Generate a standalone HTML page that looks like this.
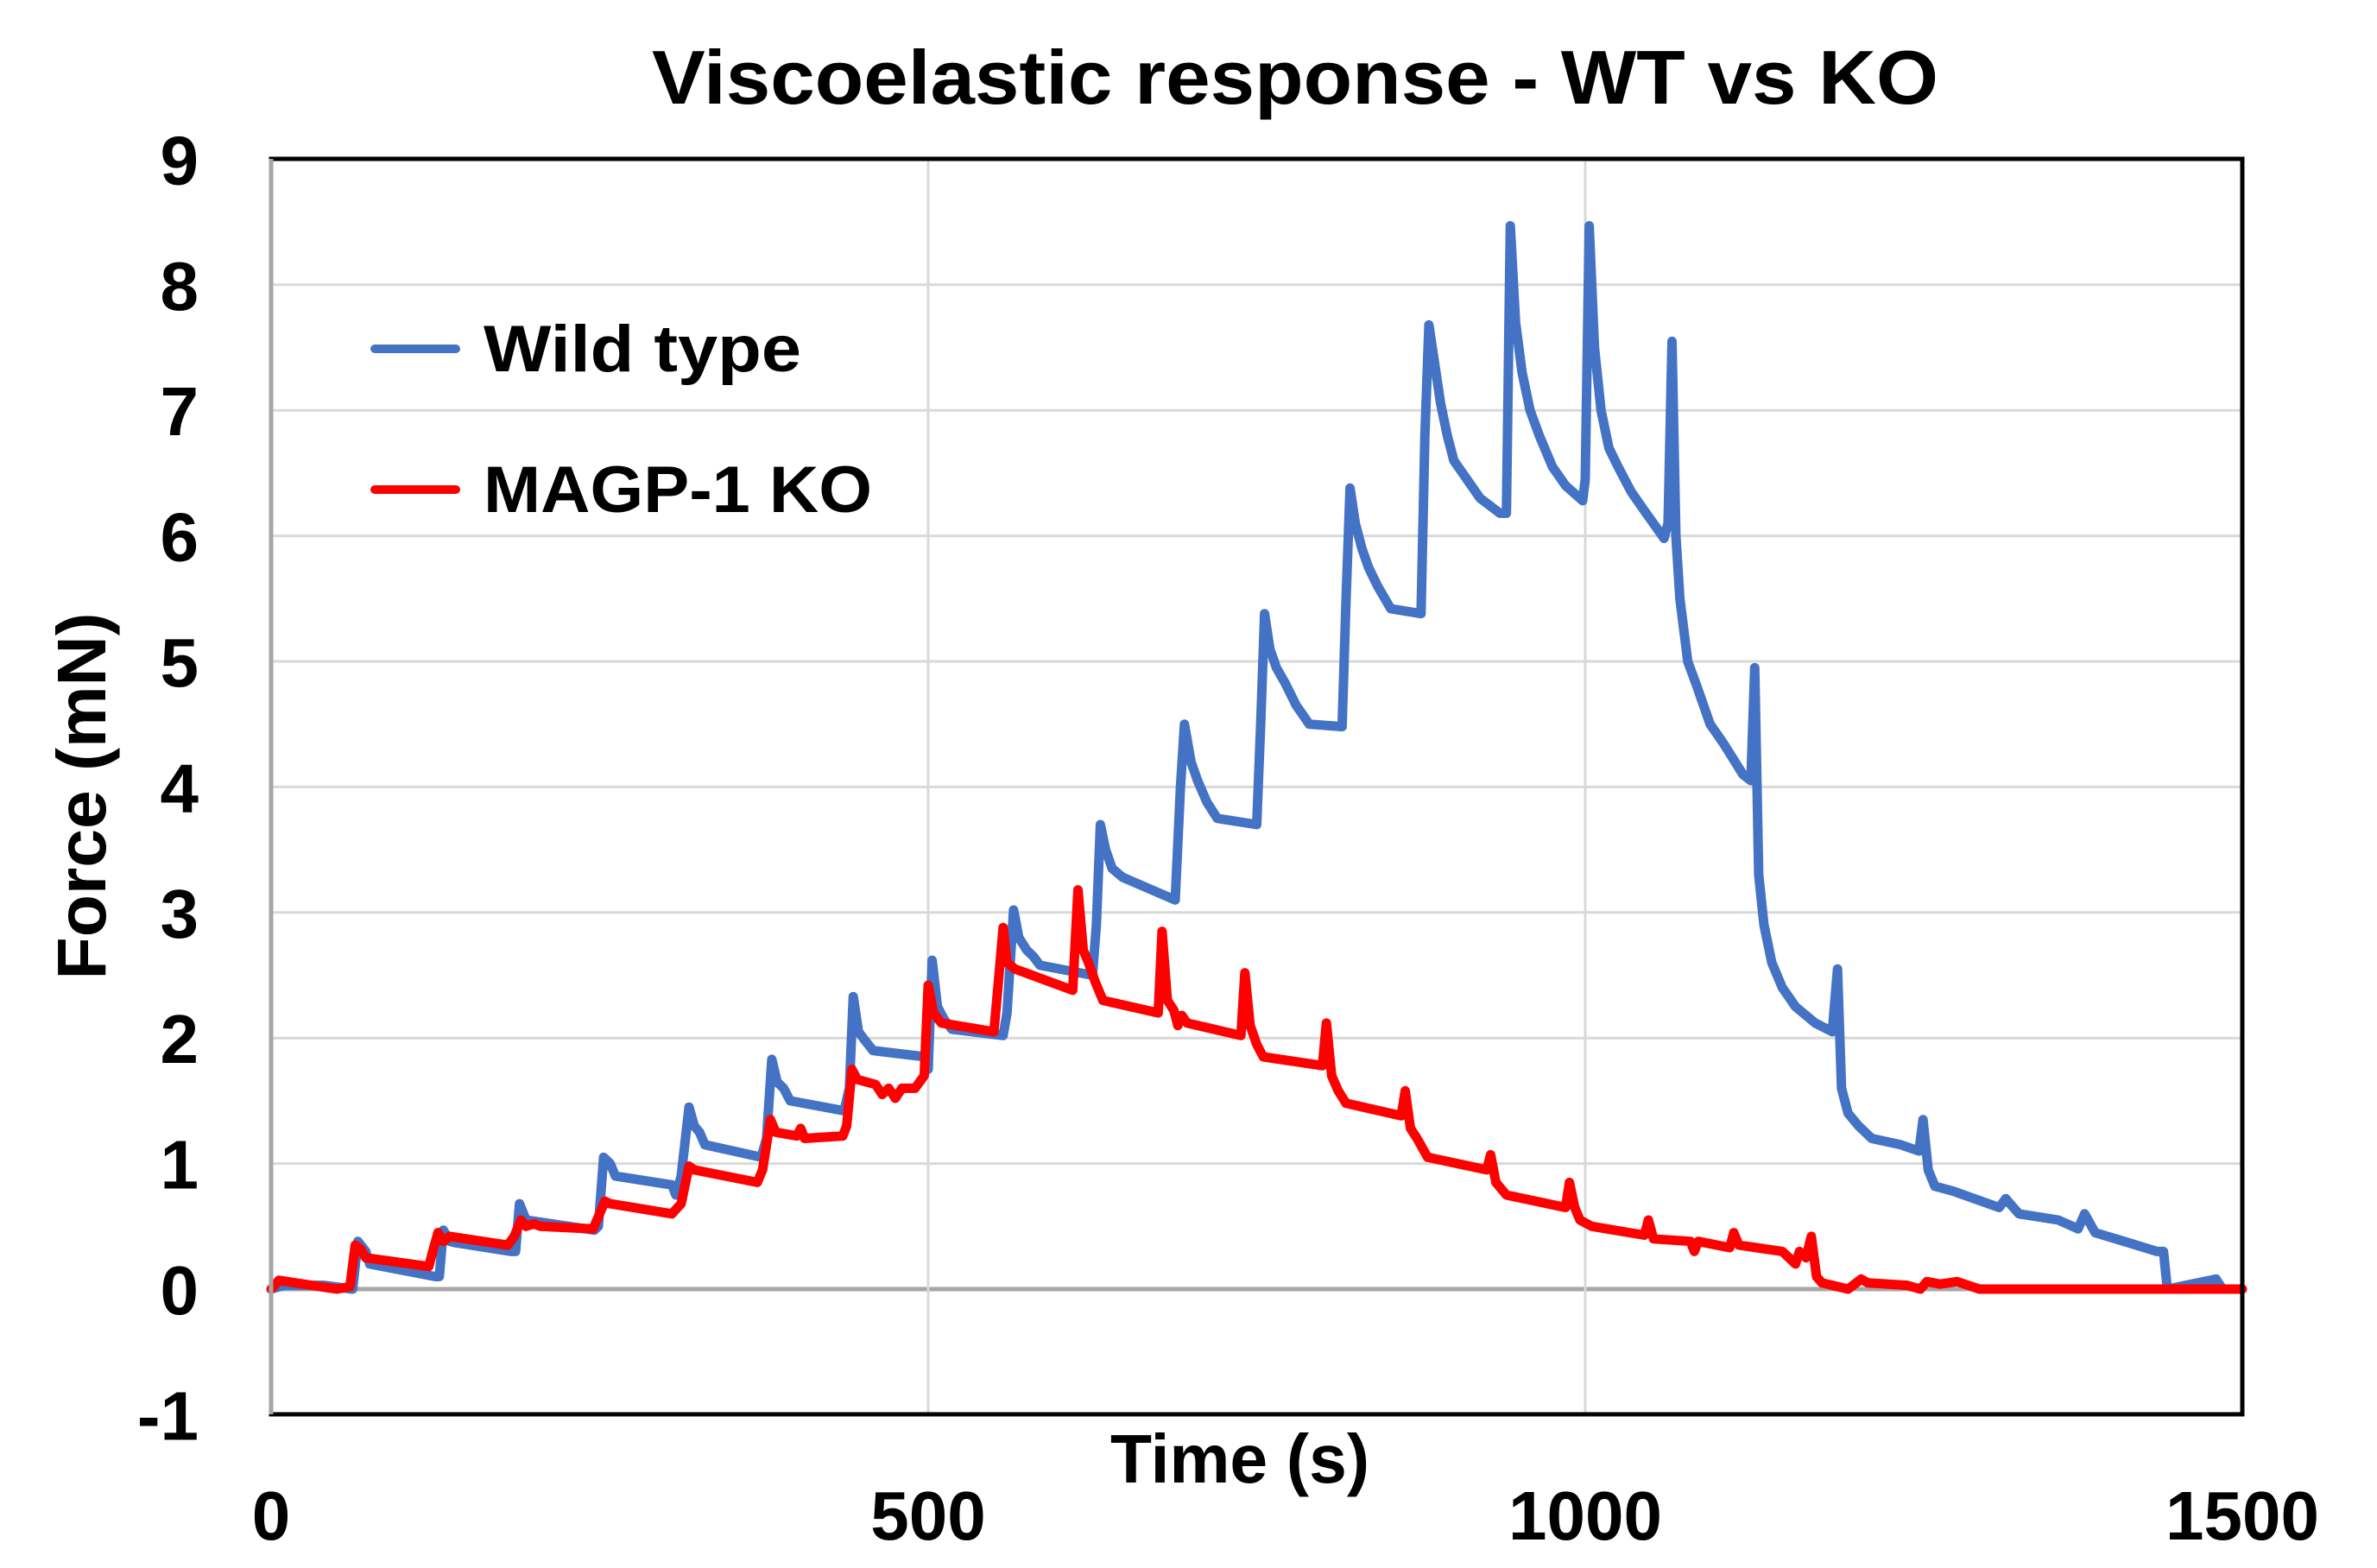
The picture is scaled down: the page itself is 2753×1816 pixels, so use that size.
<!DOCTYPE html>
<html><head><meta charset="utf-8"><style>
html,body{margin:0;padding:0;background:#fff;}
svg{display:block;font-family:"Liberation Sans",sans-serif;font-weight:bold;}
</style></head><body>
<svg id="chart" width="2753" height="1816" viewBox="0 0 2753 1816" xmlns="http://www.w3.org/2000/svg">
<rect width="2753" height="1816" fill="#fff"/>
<text x="1500" y="120" font-size="88" text-anchor="middle" textLength="1490" lengthAdjust="spacingAndGlyphs">Viscoelastic response - WT vs KO</text>
<g id="grid"></g>
<g id="series"></g>
<rect x="314" y="184" width="2283" height="1454" fill="none" stroke="#000" stroke-width="5"/>
<line x1="314" y1="184" x2="314" y2="1638" stroke="#a6a6a6" stroke-width="5"/>
<g id="ticks"></g>
<text x="1436" y="1717" font-size="80" text-anchor="middle" textLength="300" lengthAdjust="spacingAndGlyphs">Time (s)</text>
<text transform="translate(122,922) rotate(-90)" font-size="80" text-anchor="middle" textLength="425" lengthAdjust="spacingAndGlyphs">Force (mN)</text>
<g>
<g>
<line x1="434" y1="404" x2="528" y2="404" stroke="#4472c4" stroke-width="10" stroke-linecap="round"/>
<text x="560" y="430" font-size="76" textLength="368" lengthAdjust="spacingAndGlyphs">Wild type</text>
</g>
<g>
<line x1="434" y1="567" x2="528" y2="567" stroke="#ff0000" stroke-width="10" stroke-linecap="round"/>
<text x="560" y="593" font-size="76" textLength="450" lengthAdjust="spacingAndGlyphs">MAGP-1 KO</text>
</g>
</g>
</svg>
<script>
const yTicks = [-1,0,1,2,3,4,5,6,7,8,9];
const xTicks = [0,500,1000,1500];
const wtTime = [0,10,40,62,66,72,75,125,128,131,136,140,183,186,189,194,246,249,253,258,262,305,308,312,318,322,326,330,373,377,381,385,390,395,436,440,443,447,452,458,498,500,503,507,512,518,557,560,565,569,575,580,585,625,628,631,635,640,648,688,692,695,700,705,712,720,750,753,756,760,765,772,780,790,815,818,821,825,830,835,842,852,875,878,881,885,890,895,900,910,920,935,940,943,947,952,958,965,975,985,998,1000,1003,1007,1012,1018,1025,1035,1045,1060,1063,1066,1069,1072,1078,1085,1095,1105,1120,1126,1129,1132,1136,1142,1150,1160,1175,1188,1192,1195,1200,1208,1218,1240,1254,1257,1261,1266,1280,1315,1320,1330,1360,1375,1380,1388,1410,1435,1440,1443,1480,1485];
const wtForce = [0,0.03,0.03,0,0.38,0.3,0.2,0.1,0.1,0.47,0.38,0.37,0.3,0.3,0.68,0.55,0.47,0.5,1.05,1.0,0.9,0.83,0.75,0.9,1.45,1.3,1.25,1.15,1.05,1.2,1.83,1.65,1.6,1.5,1.42,1.6,2.33,2.05,1.98,1.9,1.85,1.75,2.62,2.25,2.15,2.07,2.02,2.2,3.02,2.8,2.7,2.65,2.58,2.5,2.9,3.7,3.5,3.35,3.28,3.1,4.0,4.5,4.2,4.05,3.88,3.75,3.7,4.5,5.38,5.1,4.95,4.82,4.65,4.5,4.48,5.5,6.38,6.1,5.9,5.75,5.6,5.42,5.38,6.8,7.68,7.4,7.05,6.8,6.6,6.45,6.3,6.18,6.18,8.47,7.7,7.3,7.0,6.8,6.55,6.4,6.28,6.45,8.47,7.5,7.0,6.7,6.55,6.35,6.2,5.98,6.1,7.55,6.0,5.5,5.0,4.8,4.5,4.35,4.1,4.05,4.95,3.3,2.9,2.6,2.4,2.25,2.12,2.05,2.55,1.6,1.4,1.3,1.2,1.15,1.1,1.35,0.95,0.82,0.78,0.65,0.72,0.6,0.55,0.48,0.6,0.45,0.38,0.3,0.3,0,0.08,0];
const koTime = [0,6,50,60,64,68,72,120,123,127,131,136,180,185,190,194,200,205,245,250,254,258,305,312,318,322,370,374,380,384,400,403,406,435,438,442,446,460,465,470,475,480,490,497,500,504,510,550,553,557,560,566,610,614,618,622,627,633,675,678,682,687,690,693,697,738,741,745,750,755,800,803,807,812,818,860,863,867,872,880,925,928,932,940,985,988,992,996,1005,1045,1048,1052,1080,1083,1086,1110,1113,1117,1150,1160,1163,1168,1172,1176,1180,1200,1210,1215,1245,1255,1260,1270,1283,1300,1500];
const koForce = [0,0.07,0,0.02,0.35,0.32,0.25,0.18,0.3,0.45,0.38,0.42,0.35,0.42,0.55,0.5,0.52,0.5,0.48,0.6,0.7,0.68,0.6,0.68,0.98,0.95,0.85,0.95,1.35,1.25,1.22,1.28,1.2,1.22,1.3,1.75,1.67,1.63,1.55,1.6,1.52,1.6,1.6,1.7,2.42,2.2,2.12,2.05,2.4,2.88,2.6,2.55,2.38,3.18,2.7,2.6,2.45,2.3,2.2,2.85,2.3,2.22,2.1,2.18,2.12,2.02,2.52,2.1,1.95,1.85,1.78,2.12,1.7,1.58,1.48,1.38,1.58,1.28,1.2,1.05,0.95,1.07,0.85,0.75,0.65,0.85,0.65,0.55,0.5,0.43,0.55,0.4,0.38,0.3,0.38,0.33,0.45,0.35,0.3,0.2,0.3,0.25,0.42,0.1,0.05,0,0.08,0.05,0.03,0,0.06,0.04,0.06,0,0];

const NS = 'http://www.w3.org/2000/svg';
const X0 = 314, X1 = 2597, Y0 = 1493, YPU = 145.4;
function xs(t){ return X0 + (t/1500)*(X1-X0); }
function ys(v){ return Y0 - v*YPU; }

const grid = document.getElementById('grid');
yTicks.forEach(v=>{
  if (v === -1 || v === 9) return;
  const l = document.createElementNS(NS,'line');
  l.setAttribute('x1',X0); l.setAttribute('x2',X1);
  l.setAttribute('y1',ys(v)); l.setAttribute('y2',ys(v));
  l.setAttribute('stroke', v===0 ? '#a6a6a6' : '#d9d9d9');
  l.setAttribute('stroke-width', v===0 ? 5 : 3);
  
  
  grid.appendChild(l);
});
xTicks.forEach(t=>{
  if (t === 0 || t === 1500) return;
  const l = document.createElementNS(NS,'line');
  l.setAttribute('x1',xs(t)); l.setAttribute('x2',xs(t));
  l.setAttribute('y1',184); l.setAttribute('y2',1638);
  l.setAttribute('stroke','#d9d9d9'); l.setAttribute('stroke-width',3);
  
  
  grid.appendChild(l);
});

const ticks = document.getElementById('ticks');
yTicks.forEach(v=>{
  const tx = document.createElementNS(NS,'text');
  tx.setAttribute('x',230); tx.setAttribute('y',ys(v)+29);
  tx.setAttribute('font-size',80); tx.setAttribute('text-anchor','end');
  tx.textContent = String(v);
  
  
  ticks.appendChild(tx);
});
xTicks.forEach(t=>{
  const tx = document.createElementNS(NS,'text');
  tx.setAttribute('x',xs(t)); tx.setAttribute('y',1783);
  tx.setAttribute('font-size',80); tx.setAttribute('text-anchor','middle');
  tx.textContent = String(t);
  
  
  ticks.appendChild(tx);
});

function path(ts, vs){
  return ts.map((t,i)=>(i?'L':'M')+xs(t).toFixed(1)+' '+ys(vs[i]).toFixed(1)).join(' ');
}
const series = document.getElementById('series');
const pWT = document.createElementNS(NS,'path');
pWT.setAttribute('d', path(wtTime, wtForce));
pWT.setAttribute('fill','none'); pWT.setAttribute('stroke','#4472c4');
pWT.setAttribute('stroke-width',11); pWT.setAttribute('stroke-linejoin','round'); pWT.setAttribute('stroke-linecap','round');


series.appendChild(pWT);
const pKO = document.createElementNS(NS,'path');
pKO.setAttribute('d', path(koTime, koForce));
pKO.setAttribute('fill','none'); pKO.setAttribute('stroke','#ff0000');
pKO.setAttribute('stroke-width',11); pKO.setAttribute('stroke-linejoin','round'); pKO.setAttribute('stroke-linecap','round');


series.appendChild(pKO);
</script>
</body></html>
